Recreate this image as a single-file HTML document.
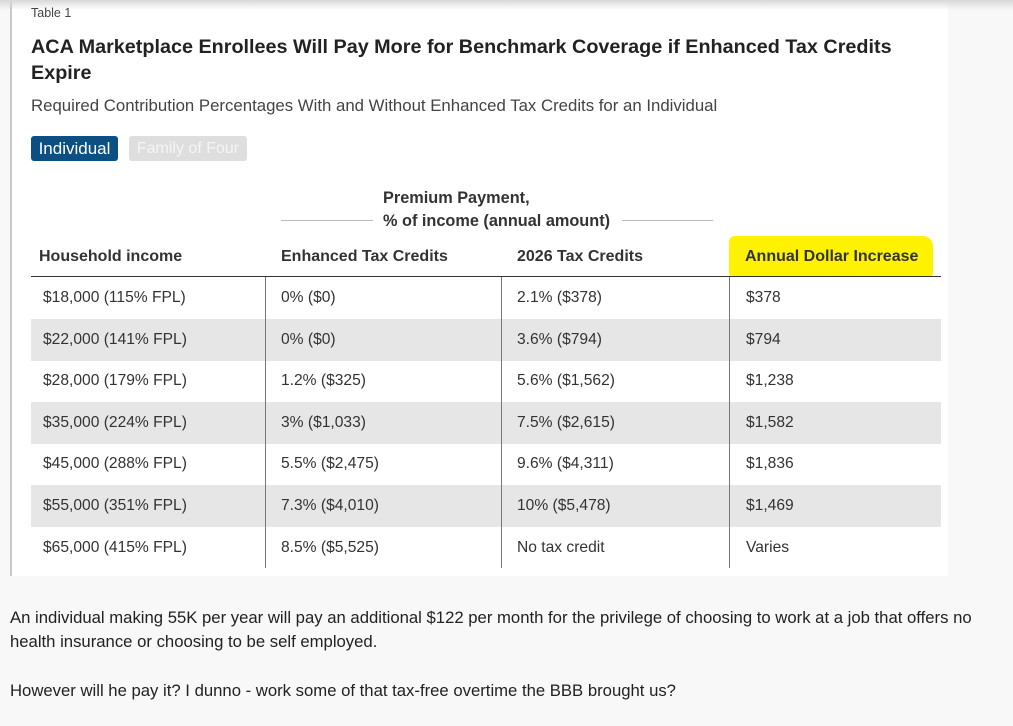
<!DOCTYPE html>
<html><head><meta charset="utf-8"><style>
*{margin:0;padding:0;box-sizing:border-box}
body{width:1013px;height:726px;background:#f8f8f8;position:relative;overflow:hidden;font-family:"Liberation Sans",sans-serif;color:#333}
#card{position:absolute;left:10px;top:0;width:938px;height:576px;background:#fff;border-left:2px solid #c8c8c8}
#shadow{position:absolute;left:0;top:0;width:1013px;height:10px;background:linear-gradient(#d8d8d8,rgba(255,255,255,0))}
.a{position:absolute;white-space:nowrap}
.row{position:absolute;left:31px;width:910px;height:42px}
.cell{position:absolute;top:0;height:42px;line-height:42px;font-size:15.6px;color:#333}
.vl{position:absolute;width:1px;background:#777}
.hd{font-size:16px;font-weight:bold;color:#333}
.ft{font-size:16.7px;color:#222}
</style></head><body>
<div id="card"></div>
<div id="shadow"></div>
<div class="a" style="left:31px;top:6px;font-size:12.5px;color:#444">Table 1</div>
<div class="a" style="left:31px;top:34px;font-size:19.8px;font-weight:bold;color:#222;line-height:26px;white-space:normal;width:900px">ACA Marketplace Enrollees Will Pay More for Benchmark Coverage if Enhanced Tax Credits Expire</div>
<div class="a" style="left:31px;top:96px;font-size:16.8px;color:#444">Required Contribution Percentages With and Without Enhanced Tax Credits for an Individual</div>
<div class="a" style="left:31px;top:136px;width:87px;height:25px;background:#0b4f83;border-radius:3px;color:#fff;font-size:17px;line-height:25px;text-align:center">Individual</div>
<div class="a" style="left:129px;top:136px;width:118px;height:25px;background:#dedede;border-radius:3px;color:#f5f5f5;font-size:16px;line-height:25px;text-align:center">Family of Four</div>
<div class="a hd" style="left:383px;top:187px;line-height:23px;font-size:16.3px">Premium Payment,<br>% of income (annual amount)</div>
<div class="a" style="left:281px;top:220px;width:92px;height:1px;background:#bbb"></div>
<div class="a" style="left:622px;top:220px;width:91px;height:1px;background:#bbb"></div>
<div class="a" style="left:729px;top:236px;width:204px;height:41px;background:#fff200;border-radius:6px 10px 4px 4px"></div>
<div class="a hd" style="left:39px;top:248px">Household income</div>
<div class="a hd" style="left:281px;top:248px">Enhanced Tax Credits</div>
<div class="a hd" style="left:517px;top:248px">2026 Tax Credits</div>
<div class="a hd" style="left:745px;top:248px">Annual Dollar Increase</div>
<div class="a" style="left:31px;top:276px;width:910px;height:1px;background:#333"></div>
<div id="rows"></div>
<div class="a ft" style="left:10px;top:606px;line-height:24px">An individual making 55K per year will pay an additional $122 per month for the privilege of choosing to work at a job that offers no<br>health insurance or choosing to be self employed.</div>
<div class="a ft" style="left:10px;top:679px;line-height:24px">However will he pay it? I dunno - work some of that tax-free overtime the BBB brought us?</div>
<script>
const income=["$18,000 (115% FPL)","$22,000 (141% FPL)","$28,000 (179% FPL)","$35,000 (224% FPL)","$45,000 (288% FPL)","$55,000 (351% FPL)","$65,000 (415% FPL)"];
const enhanced=["0% ($0)","0% ($0)","1.2% ($325)","3% ($1,033)","5.5% ($2,475)","7.3% ($4,010)","8.5% ($5,525)"];
const baseline=["2.1% ($378)","3.6% ($794)","5.6% ($1,562)","7.5% ($2,615)","9.6% ($4,311)","10% ($5,478)","No tax credit"];
const increase=["$378","$794","$1,238","$1,582","$1,836","$1,469","Varies"];
const wrap=document.getElementById('rows');
const top0=277,rh=41.6,colX=[12,250,486,715];
income.forEach((v,i)=>{
  const r=document.createElement('div');
  r.className='row';
  
  
  r.style.top=(top0+i*rh)+'px';
  if(i%2===1) r.style.background='#e6e6e6';
  [income[i],enhanced[i],baseline[i],increase[i]].forEach((t,j)=>{
    const c=document.createElement('div');
    c.className='cell';
    
    
    c.style.left=colX[j]+'px';
    c.textContent=t;
    r.appendChild(c);
  });
  wrap.appendChild(r);
});
[265,501,729].forEach(x=>{
  const l=document.createElement('div');
  l.className='vl';
  
  
  l.style.left=x+'px';l.style.top=top0+'px';l.style.height=(income.length*rh)+'px';
  wrap.appendChild(l);
});
</script>
</body></html>
